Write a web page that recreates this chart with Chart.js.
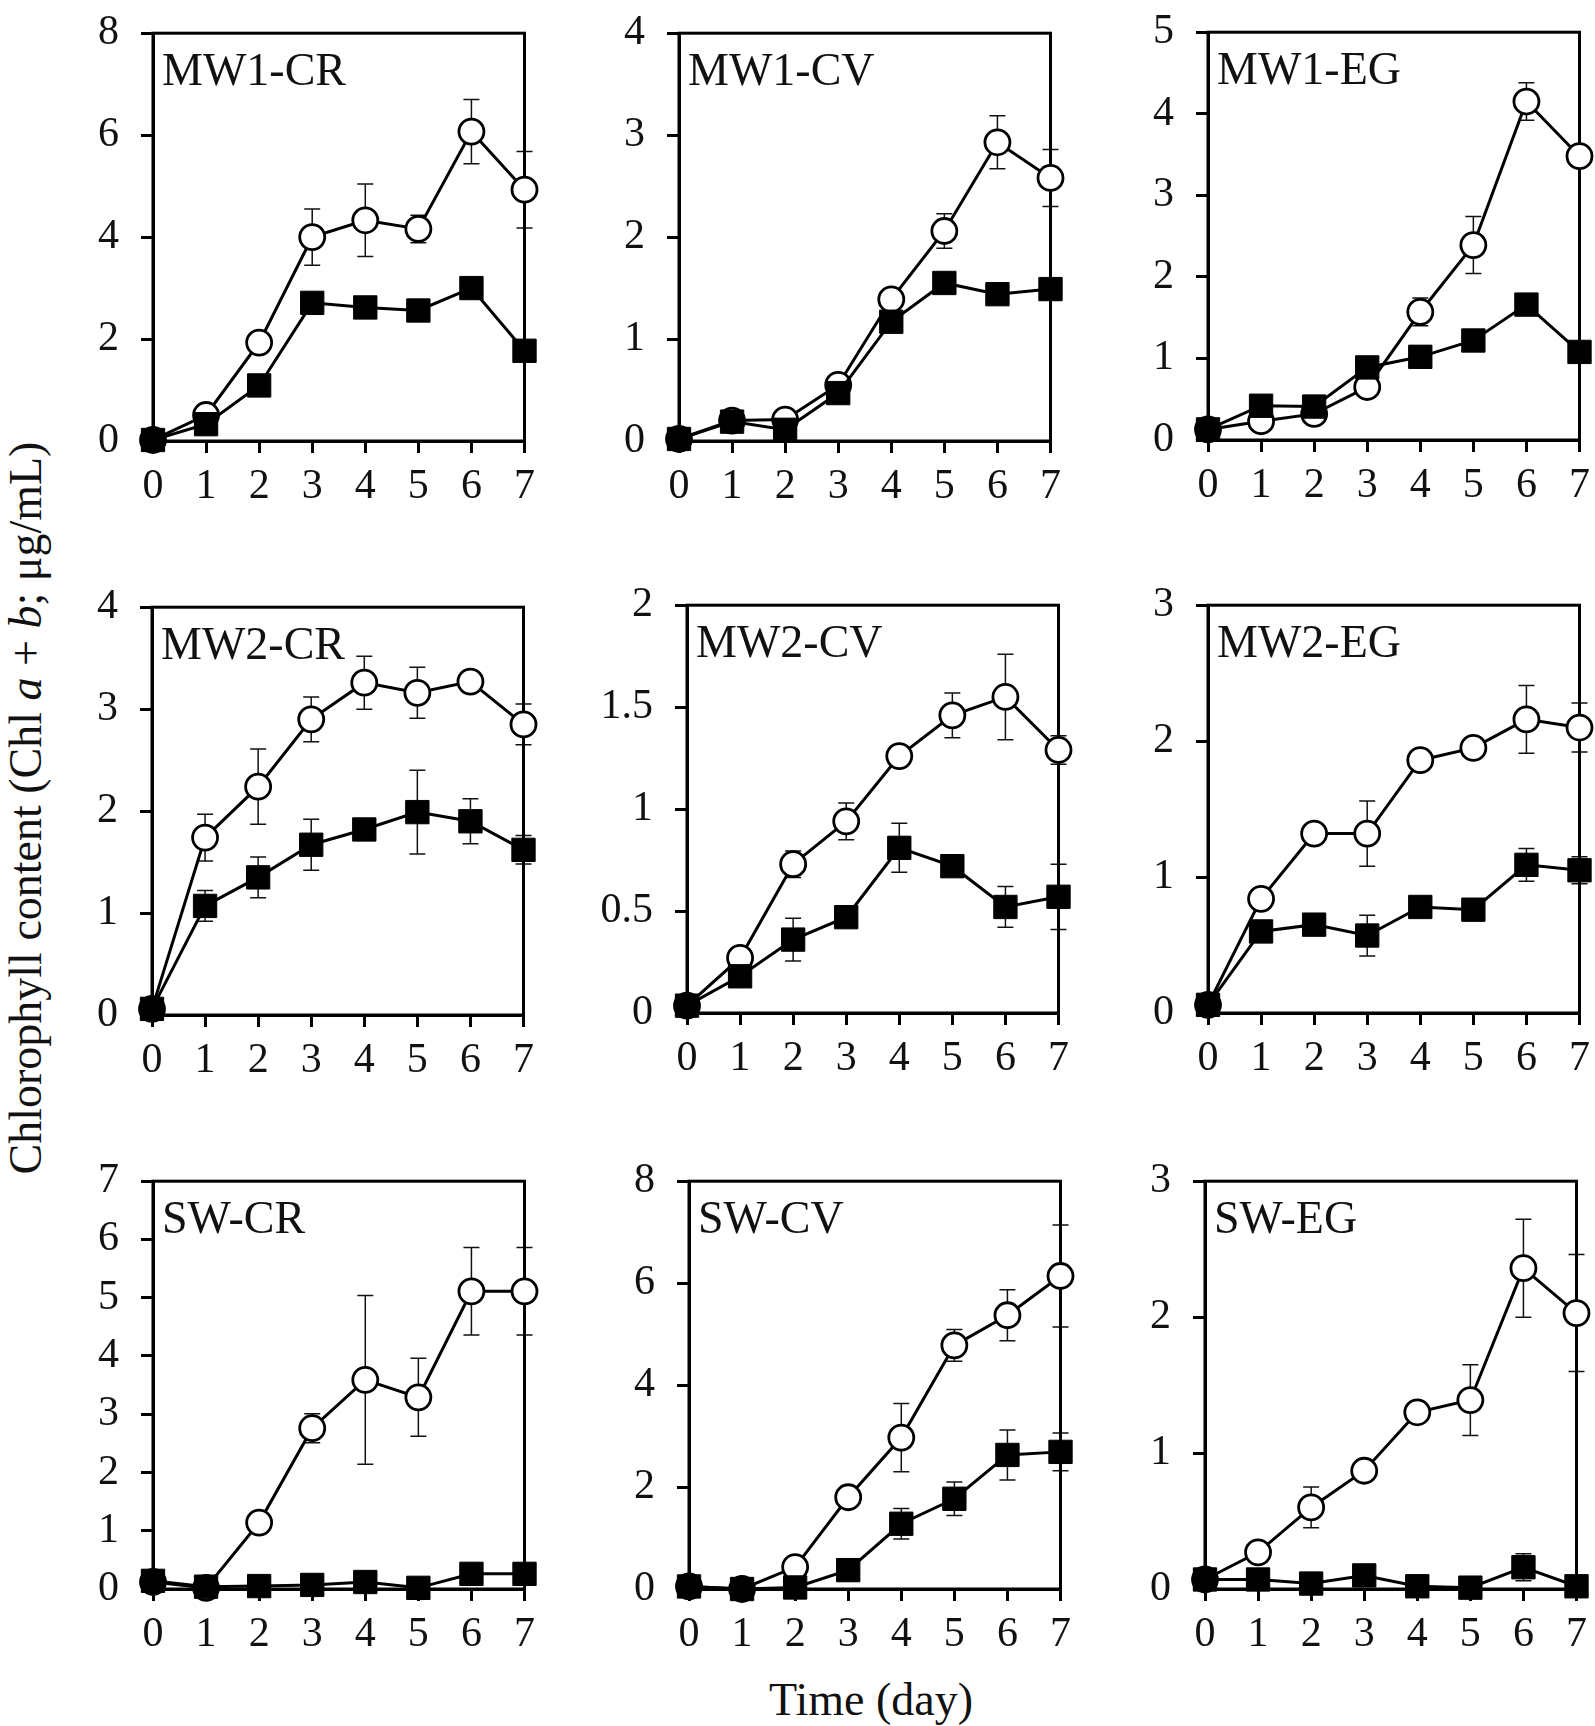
<!DOCTYPE html>
<html>
<head>
<meta charset="utf-8">
<script src="https://cdn.jsdelivr.net/npm/chart.js@4.4.1/dist/chart.umd.min.js"></script>
<style>
  body { margin: 0; background: #fff; width: 1595px; height: 1726px; position: relative; overflow: hidden; }
  .panel { position: absolute; width: 501px; height: 535px; }
  .ytitle, .xtitle { position: absolute; font-family: "Liberation Serif", "Times New Roman", serif; font-size: 46px; color: #111; white-space: nowrap; line-height: 1; }
  .ytitle { left: 26px; top: 808px; transform: translate(-50%, -50%) rotate(-90deg); }
  .xtitle { left: 871px; top: 1677px; transform: translateX(-50%); }
</style>
</head>
<body>
<div class="ytitle">Chlorophyll content (Chl <i>a</i> + <i>b</i>; μg/mL)</div>
<div class="xtitle">Time (day)</div>
<script>
const days = [0, 1, 2, 3, 4, 5, 6, 7];
const panel_names = ['MW1-CR', 'MW1-CV', 'MW1-EG', 'MW2-CR', 'MW2-CV', 'MW2-EG', 'SW-CR', 'SW-CV', 'SW-EG'];
const y_max = [8, 4, 5, 4, 2, 3, 7, 8, 3];
const y_step = [2, 1, 1, 1, 0.5, 1, 1, 2, 1];

// open circles
const open_values = [
    [0.02, 0.51, 1.93, 4.00, 4.33, 4.16, 6.07, 4.93],
    [0.02, 0.20, 0.21, 0.55, 1.39, 2.06, 2.93, 2.58],
    [0.13, 0.23, 0.32, 0.65, 1.57, 2.39, 4.15, 3.48],
    [0.06, 1.74, 2.24, 2.90, 3.26, 3.16, 3.27, 2.85],
    [0.036, 0.27, 0.73, 0.94, 1.26, 1.46, 1.55, 1.29],
    [0.06, 0.84, 1.32, 1.32, 1.86, 1.95, 2.16, 2.10],
    [0.12, 0.02, 1.14, 2.76, 3.59, 3.29, 5.11, 5.11],
    [0.05, 0.00, 0.43, 1.80, 2.97, 4.78, 5.37, 6.14],
    [0.07, 0.27, 0.60, 0.87, 1.30, 1.39, 2.36, 2.03]
];
const open_errors = [
    [0, 0.05, 0.10, 0.55, 0.71, 0.27, 0.63, 0.75],
    [0, 0, 0, 0.10, 0, 0.17, 0.26, 0.28],
    [0, 0, 0, 0, 0.17, 0.35, 0.23, 0.10],
    [0, 0.23, 0.37, 0.22, 0.26, 0.25, 0.10, 0.20],
    [0, 0.05, 0.065, 0.09, 0, 0.11, 0.21, 0.07],
    [0, 0, 0, 0.24, 0, 0, 0.25, 0.18],
    [0, 0, 0, 0.25, 1.45, 0.67, 0.75, 0.75],
    [0, 0, 0, 0, 0.67, 0.31, 0.50, 1.00],
    [0, 0, 0.15, 0, 0, 0.26, 0.36, 0.43]
];

// filled squares
const filled_values = [
    [0.02, 0.33, 1.09, 2.71, 2.62, 2.56, 3.00, 1.77],
    [0.02, 0.19, 0.11, 0.47, 1.17, 1.55, 1.44, 1.49],
    [0.13, 0.42, 0.41, 0.89, 1.02, 1.22, 1.66, 1.08],
    [0.06, 1.07, 1.35, 1.67, 1.82, 1.99, 1.90, 1.62],
    [0.036, 0.18, 0.36, 0.47, 0.81, 0.72, 0.52, 0.57],
    [0.06, 0.60, 0.65, 0.57, 0.78, 0.76, 1.09, 1.05],
    [0.14, 0.04, 0.05, 0.07, 0.12, 0.02, 0.26, 0.26],
    [0.05, 0.00, 0.03, 0.37, 1.28, 1.77, 2.63, 2.69],
    [0.07, 0.07, 0.04, 0.10, 0.02, 0.01, 0.16, 0.02]
];
const filled_errors = [
    [0, 0, 0, 0, 0, 0, 0, 0],
    [0, 0, 0, 0, 0, 0, 0, 0],
    [0, 0, 0, 0, 0, 0, 0, 0],
    [0, 0.15, 0.20, 0.25, 0, 0.41, 0.22, 0.14],
    [0, 0, 0.105, 0, 0.12, 0, 0.10, 0.16],
    [0, 0, 0, 0.15, 0, 0, 0.12, 0.10],
    [0, 0, 0, 0, 0, 0, 0, 0],
    [0, 0, 0, 0, 0.30, 0.33, 0.49, 0.37],
    [0, 0, 0, 0, 0, 0, 0.10, 0]
];

// plot-area top-left corner of each panel on the page
const plot_left = [153, 679, 1208, 152, 687, 1208, 153, 689, 1205];
const plot_top = [16, 16, 15, 590, 588, 588, 1164, 1164, 1164];

Chart.defaults.font.family = '"Liberation Serif", "Times New Roman", serif';
Chart.defaults.color = '#111';

const panelExtras = {
    id: 'panelExtras',
    beforeDatasetsDraw(chart, args, opts) {
        const {ctx, chartArea: a, scales: {x, y}} = chart;
        ctx.save();
        ctx.strokeStyle = '#111';
        ctx.lineWidth = 1.5;
        opts.errors.forEach((errs, di) => {
            const vals = chart.data.datasets[di].data;
            errs.forEach((e, i) => {
                if (!e) return;
                const px = x.getPixelForValue(vals[i].x);
                const top = y.getPixelForValue(vals[i].y + e);
                const bot = y.getPixelForValue(vals[i].y - e);
                ctx.beginPath();
                ctx.moveTo(px, top); ctx.lineTo(px, bot);
                ctx.moveTo(px - 8, top); ctx.lineTo(px + 8, top);
                ctx.moveTo(px - 8, bot); ctx.lineTo(px + 8, bot);
                ctx.stroke();
            });
        });
        ctx.strokeStyle = '#000';
        ctx.lineWidth = 3;
        ctx.strokeRect(a.left, a.top, a.right - a.left, a.bottom - a.top);
        ctx.fillStyle = '#111';
        ctx.font = '46px "Liberation Serif"';
        ctx.textBaseline = 'alphabetic';
        ctx.fillText(opts.label, a.left + 9, a.top + 52);
        ctx.restore();
    }
};

const toPoints = (vals) => vals.map((v, i) => ({x: days[i], y: v}));

panel_names.forEach((name, p) => {
    const box = document.createElement('div');
    box.className = 'panel';
    box.style.left = (plot_left[p] - 110) + 'px';
    box.style.top = (plot_top[p] - 30) + 'px';
    const canvas = document.createElement('canvas');
    box.appendChild(canvas);
    document.body.appendChild(box);

    new Chart(canvas, {
        type: 'line',
        data: {
            datasets: [
                {
                    data: toPoints(filled_values[p]),
                    order: 0,
                    borderColor: '#000',
                    borderWidth: 3,
                    pointStyle: 'rect',
                    pointRadius: 16.5,
                    pointBackgroundColor: '#000',
                    pointBorderColor: '#000',
                    pointBorderWidth: 1,
                    clip: false,
                },
                {
                    data: toPoints(open_values[p]),
                    order: 1,
                    borderColor: '#000',
                    borderWidth: 3,
                    pointStyle: 'circle',
                    pointRadius: 12.5,
                    pointBackgroundColor: '#fff',
                    pointBorderColor: '#000',
                    pointBorderWidth: 2.8,
                    clip: false,
                }
            ]
        },
        options: {
            animation: false,
            responsive: true,
            maintainAspectRatio: false,
            layout: {padding: {top: 30, right: 18, left: 0, bottom: 0}},
            scales: {
                x: {
                    type: 'linear',
                    min: 0,
                    max: 7,
                    afterFit: (scale) => { scale.height = 80; },
                    ticks: {stepSize: 1, padding: 9, font: {size: 42}, color: '#111'},
                    grid: {drawOnChartArea: false, tickLength: 12, lineWidth: 3, color: '#000'},
                    border: {display: true, width: 3, color: '#000'},
                },
                y: {
                    min: 0,
                    max: y_max[p],
                    afterFit: (scale) => { scale.width = 110; },
                    ticks: {
                        stepSize: y_step[p],
                        padding: 22,
                        font: {size: 42},
                        color: '#111',
                        callback: (v) => String(v),
                    },
                    grid: {drawOnChartArea: false, tickLength: 12, lineWidth: 3, color: '#000'},
                    border: {display: true, width: 3, color: '#000'},
                }
            },
            plugins: {
                legend: {display: false},
                tooltip: {enabled: false},
                panelExtras: {
                    label: name,
                    errors: [filled_errors[p], open_errors[p]],
                }
            }
        },
        plugins: [panelExtras]
    });
});
</script>
</body>
</html>
